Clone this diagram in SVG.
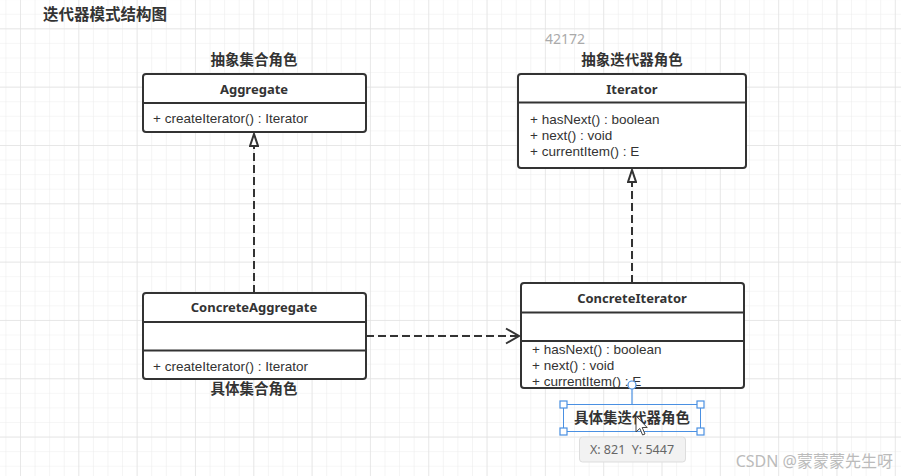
<svg xmlns="http://www.w3.org/2000/svg" width="901" height="476" viewBox="0 0 901 476">
<defs>
<pattern id="minor" x="5.42" y="13.76" width="14.58" height="14.58" patternUnits="userSpaceOnUse">
<path d="M0 0H14.58M0 0V14.58" fill="none" stroke="#ededed" stroke-width="1.2"/>
</pattern>
<pattern id="major" x="20" y="28.34" width="58.32" height="58.32" patternUnits="userSpaceOnUse">
<path d="M0 0H58.32M0 0V58.32" fill="none" stroke="#e2e2e2" stroke-width="1.3"/>
</pattern>
<marker id="tri" viewBox="0 0 14 10" refX="13" refY="5" markerWidth="14" markerHeight="10" markerUnits="userSpaceOnUse" orient="auto">
<path d="M1 1L13 5L1 9Z" fill="#fff" stroke="#333" stroke-width="2" stroke-linejoin="miter"/>
</marker>
<marker id="open" viewBox="0 0 16 18" refX="14" refY="9" markerWidth="16" markerHeight="18" markerUnits="userSpaceOnUse" orient="auto">
<path d="M1 1.5L14 9L1 16.5" fill="none" stroke="#333" stroke-width="2"/>
</marker>
</defs>
<style>
.box{fill:#fff;stroke:#333;stroke-width:2}
.sep{stroke:#333;stroke-width:2}
.cn{font-family:"Noto Sans CJK SC","Noto Sans",sans-serif;font-weight:bold;fill:#333}
.cls{font-family:"Noto Sans","Noto Sans CJK SC",sans-serif;font-weight:bold;font-size:13px;fill:#333;text-anchor:middle}
.m{font-family:"Liberation Sans",Arial,sans-serif;font-size:13.5px;fill:#333}
.dash{fill:none;stroke:#333;stroke-width:2;stroke-dasharray:8 4}
.sel{fill:none;stroke:#4a90e2;stroke-width:1}
.h{fill:#fff;stroke:#4a90e2;stroke-width:1.2}
</style>
<rect width="901" height="476" fill="#fff"/>
<rect width="901" height="476" fill="url(#minor)"/>
<rect width="901" height="476" fill="url(#major)"/>

<text x="43" y="20" class="cn" font-size="15.5">迭代器模式结构图</text>
<text x="565" y="44" font-family="Noto Sans, sans-serif" font-size="14" fill="#aaa" text-anchor="middle">42172</text>

<g id="connectors">
<path class="dash" d="M254 293V134" marker-end="url(#tri)"/>
<path class="dash" d="M632 283V170" marker-end="url(#tri)"/>
<path class="dash" d="M366 336H519" marker-end="url(#open)"/>
</g>

<g id="aggregate">
<text x="254" y="65" class="cn" font-size="14.5" text-anchor="middle">抽象集合角色</text>
<rect class="box" x="143" y="74" width="223" height="58" rx="3"/>
<line class="sep" x1="143" y1="103" x2="366" y2="103"/>
<text x="254" y="93.5" class="cls">Aggregate</text>
<text x="153" y="123" class="m">+ createIterator() : Iterator</text>
</g>

<g id="iterator">
<text x="632" y="65" class="cn" font-size="14.5" text-anchor="middle">抽象迭代器角色</text>
<rect class="box" x="518" y="74" width="228" height="94" rx="3"/>
<line class="sep" x1="518" y1="102.5" x2="746" y2="102.5"/>
<text x="632" y="93.5" class="cls">Iterator</text>
<text x="530" y="124" class="m">+ hasNext() : boolean</text>
<text x="530" y="140" class="m">+ next() : void</text>
<text x="530" y="156" class="m">+ currentItem() : E</text>
</g>

<g id="concreteAggregate">
<rect class="box" x="143" y="293" width="223" height="86" rx="3"/>
<line class="sep" x1="143" y1="322" x2="366" y2="322"/>
<line class="sep" x1="143" y1="350.5" x2="366" y2="350.5"/>
<text x="254" y="312" class="cls">ConcreteAggregate</text>
<text x="153" y="370.5" class="m">+ createIterator() : Iterator</text>
<text x="254" y="394" class="cn" font-size="14.5" text-anchor="middle">具体集合角色</text>
</g>

<g id="concreteIterator">
<rect class="box" x="521" y="283" width="223" height="105" rx="3"/>
<line class="sep" x1="521" y1="312.5" x2="744" y2="312.5"/>
<line class="sep" x1="521" y1="341" x2="744" y2="341"/>
<text x="632" y="302.5" class="cls">ConcreteIterator</text>
<text x="532" y="353.5" class="m">+ hasNext() : boolean</text>
<text x="532" y="369.5" class="m">+ next() : void</text>
<text x="532" y="385.5" class="m">+ currentItem() : E</text>
</g>

<g id="selectedLabel">
<line x1="632" y1="389" x2="632" y2="404" stroke="#4a90e2" stroke-width="1.2"/>
<circle cx="632" cy="385" r="4" class="h"/>
<rect class="sel" x="563.5" y="404.5" width="137" height="27"/>
<text x="632" y="423" class="cn" font-size="14.5" text-anchor="middle">具体集迭代器角色</text>
<rect class="h" x="560" y="401" width="7" height="7"/>
<rect class="h" x="697" y="401" width="7" height="7"/>
<rect class="h" x="560" y="428" width="7" height="7"/>
<rect class="h" x="697" y="428" width="7" height="7"/>
<path d="M636 416V432L639.8 428.4L642.6 435L645 434L642.2 427.5L647.2 427.5Z" fill="#fff" stroke="#444" stroke-width="1"/>
</g>

<g id="tooltip">
<rect x="579.5" y="437" width="106" height="25" rx="3" fill="#f2f2f2" stroke="#ddd"/>
<text x="632" y="454" font-family="Noto Sans, sans-serif" font-size="12.5" fill="#666" text-anchor="middle" xml:space="preserve">X: 821  Y: 5447</text>
</g>

<text x="893" y="467" font-family="Noto Sans, Noto Sans CJK SC, sans-serif" font-size="16" fill="#bbb" text-anchor="end">CSDN @蒙蒙蒙先生呀</text>
</svg>
